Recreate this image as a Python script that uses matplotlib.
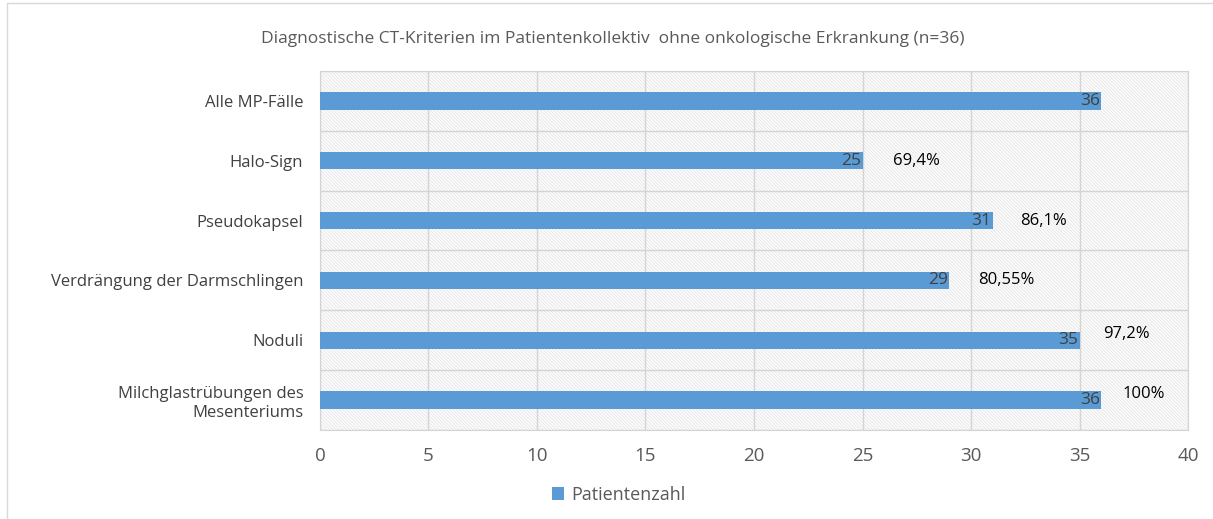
import numpy as np
import matplotlib
matplotlib.use('Agg')
import matplotlib.pyplot as plt
from matplotlib.patches import Rectangle

# data
kriterien = ['Alle MP-Fälle', 'Halo-Sign', 'Pseudokapsel',
             'Verdrängung der Darmschlingen', 'Noduli',
             'Milchglastrübungen des\nMesenteriums']
patienten = [36, 25, 31, 29, 35, 36]
prozent = ['', '69,4%', '86,1%', '80,55%', '97,2%', '100%']
xticks = [0, 5, 10, 15, 20, 25, 30, 35, 40]

plt.rcParams['font.family'] = ['Open Sans', 'DejaVu Sans']
plt.rcParams['hatch.linewidth'] = 0.5

fig = plt.figure(figsize=(12.13, 5.19), dpi=100)
ax = fig.add_axes([0.2638, 0.1715, 0.7156, 0.6917])

# hatched plot area like the excel chart
ax.add_patch(Rectangle((0, 0), 1, 1, transform=ax.transAxes, facecolor='#fcfcfc',
                       edgecolor='#e2e2e2', hatch='\\' * 10, lw=0, zorder=0))

y = np.arange(len(kriterien))
bars = ax.barh(y, patienten, height=0.29, color='#5B9BD5', zorder=3)
ax.set_ylim(len(kriterien) - 0.5, -0.5)
ax.set_xlim(0, 40)
ax.set_xticks(xticks)
ax.set_yticks(y)
ax.set_yticklabels(kriterien, color='#404040', fontsize=12, linespacing=1.25)
ax.set_yticks(np.arange(len(kriterien) + 1) - 0.5, minor=True)
ax.tick_params(axis='y', which='both', length=0, pad=12)
ax.tick_params(axis='x', length=0, pad=12, labelsize=13.5, labelcolor='#595959')
ax.grid(axis='x', color='#d4d4d4', lw=1, zorder=1)
ax.grid(axis='y', which='minor', color='#d4d4d4', lw=1, zorder=1)
ax.grid(axis='y', which='major', visible=False)
for s in ax.spines.values():
    s.set_color('#d4d4d4')

# values at bar end
for yi, v in zip(y, patienten):
    ax.text(v - 0.05, yi, str(v), ha='right', va='center', fontsize=12.5,
            color='#404040', zorder=4)

# percentages as text boxes (offsets in points)
dx = [0, 22, 20, 21, 17, 15]
dy = [0, 0, 0, 0, 4.5, 4.5]
for yi, v, p, ox, oy in zip(y, patienten, prozent, dx, dy):
    if p:
        ax.annotate(p, (v, yi), xytext=(ox, oy), textcoords='offset points',
                    ha='left', va='center', fontsize=12, color='black', zorder=4)

fig.text(0.505, 0.925, 'Diagnostische CT-Kriterien im Patientenkollektiv  ohne onkologische Erkrankung (n=36)',
         ha='center', va='center', fontsize=12.5, color='#595959')

fig.legend([bars], ['Patientenzahl'], loc='center', bbox_to_anchor=(0.51, 0.046),
           frameon=False, fontsize=13, handlelength=0.7, handleheight=0.7,
           handletextpad=0.4, labelcolor='#595959')

# outer chart border
fig.add_artist(Rectangle((0.006, -0.01), 1.0, 1.004, transform=fig.transFigure,
                         fill=False, edgecolor='#d9d9d9', lw=1))

fig.savefig('out.png', dpi=100)
